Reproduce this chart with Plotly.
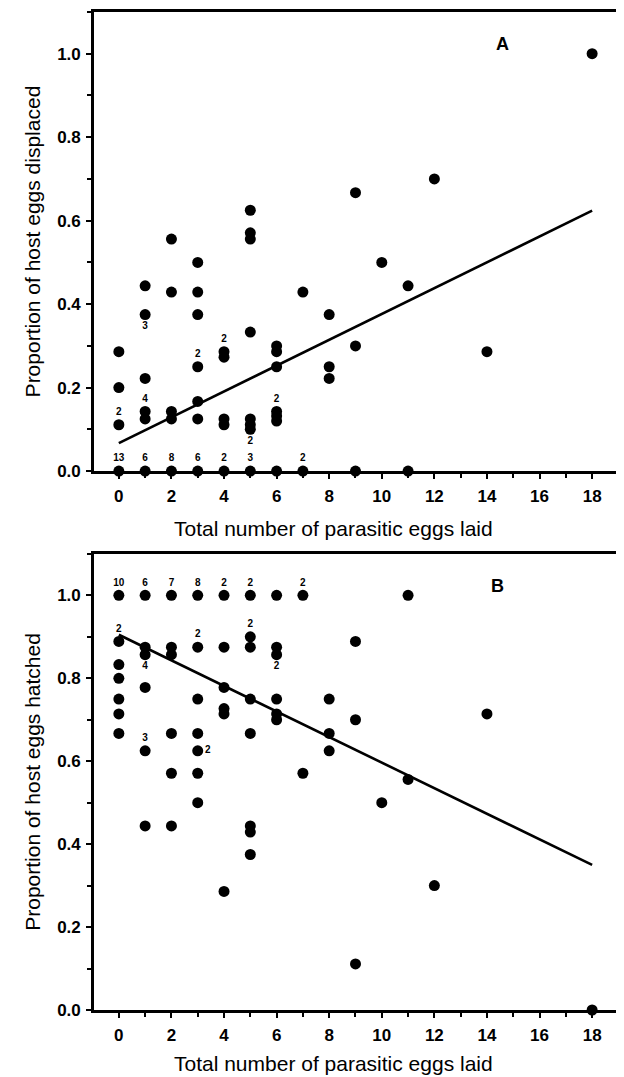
import plotly.graph_objects as go

# ---------------- data ----------------
# Panel A: proportion of host eggs displaced
a_x = [0, 0, 0, 0,
       1, 1, 1, 1, 1, 1,
       2, 2, 2, 2, 2,
       3, 3, 3, 3, 3, 3, 3,
       4, 4, 4, 4, 4,
       5, 5, 5, 5, 5, 5, 5, 5,
       6, 6, 6, 6, 6, 6, 6,
       7, 7,
       8, 8, 8,
       9, 9, 9,
       10,
       11, 11,
       12,
       14,
       18]
a_y = [0.286, 0.2, 0.111, 0.0,
       0.444, 0.375, 0.222, 0.143, 0.125, 0.0,
       0.556, 0.429, 0.143, 0.125, 0.0,
       0.5, 0.429, 0.375, 0.25, 0.167, 0.125, 0.0,
       0.286, 0.273, 0.125, 0.111, 0.0,
       0.625, 0.571, 0.556, 0.333, 0.125, 0.111, 0.1, 0.0,
       0.3, 0.286, 0.25, 0.143, 0.132, 0.12, 0.0,
       0.429, 0.0,
       0.375, 0.25, 0.222,
       0.667, 0.3, 0.0,
       0.5,
       0.444, 0.0,
       0.7,
       0.286,
       1.0]
# count labels (number of overlapping nests) in panel A
a_lab_x = [0, 1, 2, 3, 4, 5, 7, 0, 1, 1, 3, 4, 5, 6]
a_lab_y = [0.0, 0.0, 0.0, 0.0, 0.0, 0.0, 0.0, 0.111, 0.375, 0.143, 0.25, 0.286, 0.1, 0.143]
a_lab_text = ["13", "6", "8", "6", "2", "3", "2", "2", "3", "4", "2", "2", "2", "2"]
a_lab_pos = ["top center"] * 7 + ["top center", "bottom center", "top center",
                                  "top center", "top center", "bottom center", "top center"]
# fitted line A
line_x = [0, 18]
a_line_y = [0.067, 0.624]

# Panel B: proportion of host eggs hatched
b_x = [0, 0, 0, 0, 0, 0, 0,
       1, 1, 1, 1, 1, 1,
       2, 2, 2, 2, 2, 2,
       3, 3, 3, 3, 3, 3, 3,
       4, 4, 4, 4, 4, 4,
       5, 5, 5, 5, 5, 5, 5, 5,
       6, 6, 6, 6, 6, 6,
       7, 7,
       8, 8, 8,
       9, 9, 9,
       10,
       11, 11,
       12,
       14,
       18]
b_y = [1.0, 0.889, 0.833, 0.8, 0.75, 0.714, 0.667,
       1.0, 0.875, 0.857, 0.778, 0.625, 0.444,
       1.0, 0.875, 0.857, 0.667, 0.571, 0.444,
       1.0, 0.875, 0.75, 0.667, 0.625, 0.571, 0.5,
       1.0, 0.875, 0.778, 0.727, 0.714, 0.286,
       1.0, 0.9, 0.875, 0.75, 0.667, 0.444, 0.429, 0.375,
       1.0, 0.875, 0.857, 0.75, 0.714, 0.7,
       1.0, 0.571,
       0.75, 0.667, 0.625,
       0.889, 0.7, 0.111,
       0.5,
       1.0, 0.556,
       0.3,
       0.714,
       0.0]
b_lab_x = [0, 1, 2, 3, 4, 5, 7, 0, 1, 1, 3, 3, 5, 6]
b_lab_y = [1.0, 1.0, 1.0, 1.0, 1.0, 1.0, 1.0, 0.889, 0.857, 0.625, 0.875, 0.625, 0.9, 0.857]
b_lab_text = ["10", "6", "7", "8", "2", "2", "2", "2", "4", "3", "2", "2", "2", "2"]
b_lab_pos = ["top center"] * 7 + ["top center", "bottom center", "top center",
                                  "top center", "middle right", "top center", "bottom center"]
b_line_y = [0.905, 0.35]

x_ticks = [0, 2, 4, 6, 8, 10, 12, 14, 16, 18]
y_ticks = [0.0, 0.2, 0.4, 0.6, 0.8, 1.0]

x_title = "Total number of parasitic eggs laid"
ya_title = "Proportion of host eggs displaced"
yb_title = "Proportion of host eggs hatched"

# ---------------- figure ----------------
FONT = "Liberation Sans, Arial, sans-serif"
fig = go.Figure()

def add_panel(xs, ys, lx, ly, lt, lp, liney, xa, ya):
    fig.add_trace(go.Scatter(x=xs, y=ys, mode="markers", xaxis=xa, yaxis=ya,
                             marker=dict(size=11, color="black"), showlegend=False,
                             cliponaxis=False))
    fig.add_trace(go.Scatter(x=line_x, y=liney, mode="lines", xaxis=xa, yaxis=ya,
                             line=dict(color="black", width=2.6), showlegend=False))
    fig.add_trace(go.Scatter(x=lx, y=ly, mode="markers+text", xaxis=xa, yaxis=ya,
                             text=lt, textposition=lp,
                             marker=dict(size=10, color="rgba(0,0,0,0)"),
                             textfont=dict(family=FONT, size=10, color="black", weight="bold"),
                             showlegend=False, cliponaxis=False))

add_panel(a_x, a_y, a_lab_x, a_lab_y, a_lab_text, a_lab_pos, a_line_y, "x", "y")
add_panel(b_x, b_y, b_lab_x, b_lab_y, b_lab_text, b_lab_pos, b_line_y, "x2", "y2")

xcommon = dict(range=[-0.945, 19.06], tickvals=x_ticks, ticks="outside", ticklen=5, tickwidth=2,
               tickcolor="black", showline=True, linecolor="black", linewidth=2.6, mirror=True,
               showgrid=False, zeroline=False,
               minor=dict(dtick=1, tick0=0, ticks="outside", ticklen=4, tickwidth=2, tickcolor="black"),
               tickfont=dict(family=FONT, size=17, color="black", weight="bold"),
               ticklabelstandoff=3)
ycommon = dict(range=[0, 1.1], tickvals=y_ticks, tickformat=".1f", ticks="outside", ticklen=5,
               tickwidth=2, tickcolor="black", showline=True, linecolor="black", linewidth=2.6,
               mirror=True, showgrid=False, zeroline=False,
               minor=dict(dtick=0.1, tick0=0, ticks="outside", ticklen=4, tickwidth=2, tickcolor="black"),
               tickfont=dict(family=FONT, size=17, color="black", weight="bold"),
               ticklabelstandoff=2)

TITLE_FONT = dict(family=FONT, size=21, color="black")

# the page body adds an 8 px margin, so the figure is 8 px smaller than the window
fig.update_layout(
    width=616, height=1069,
    margin=dict(l=86, r=1, t=2, b=67),
    paper_bgcolor="white", plot_bgcolor="white",
    xaxis=dict(xcommon, domain=[0, 1], anchor="y"),
    yaxis=dict(ycommon, domain=[0.54, 1.0], anchor="x",
               title=dict(text=ya_title, standoff=11, font=TITLE_FONT)),
    xaxis2=dict(xcommon, domain=[0, 1], anchor="y2"),
    yaxis2=dict(ycommon, domain=[0, 0.457], anchor="x2",
                title=dict(text=yb_title, standoff=11, font=TITLE_FONT)),
    annotations=[
        dict(text="<b>A</b>", xref="x domain", yref="y domain", x=0.792, y=0.957,
             showarrow=False, font=dict(family=FONT, size=18, color="black")),
        dict(text="<b>B</b>", xref="x2 domain", yref="y2 domain", x=0.784, y=0.956,
             showarrow=False, font=dict(family=FONT, size=18, color="black")),
        dict(text=x_title, xref="x domain", yref="y domain", x=0.456, y=0, yshift=-57,
             yanchor="middle", showarrow=False, font=TITLE_FONT),
        dict(text=x_title, xref="x2 domain", yref="y2 domain", x=0.456, y=0, yshift=-53,
             yanchor="middle", showarrow=False, font=TITLE_FONT),
    ],
)

fig.write_html("out.html")
